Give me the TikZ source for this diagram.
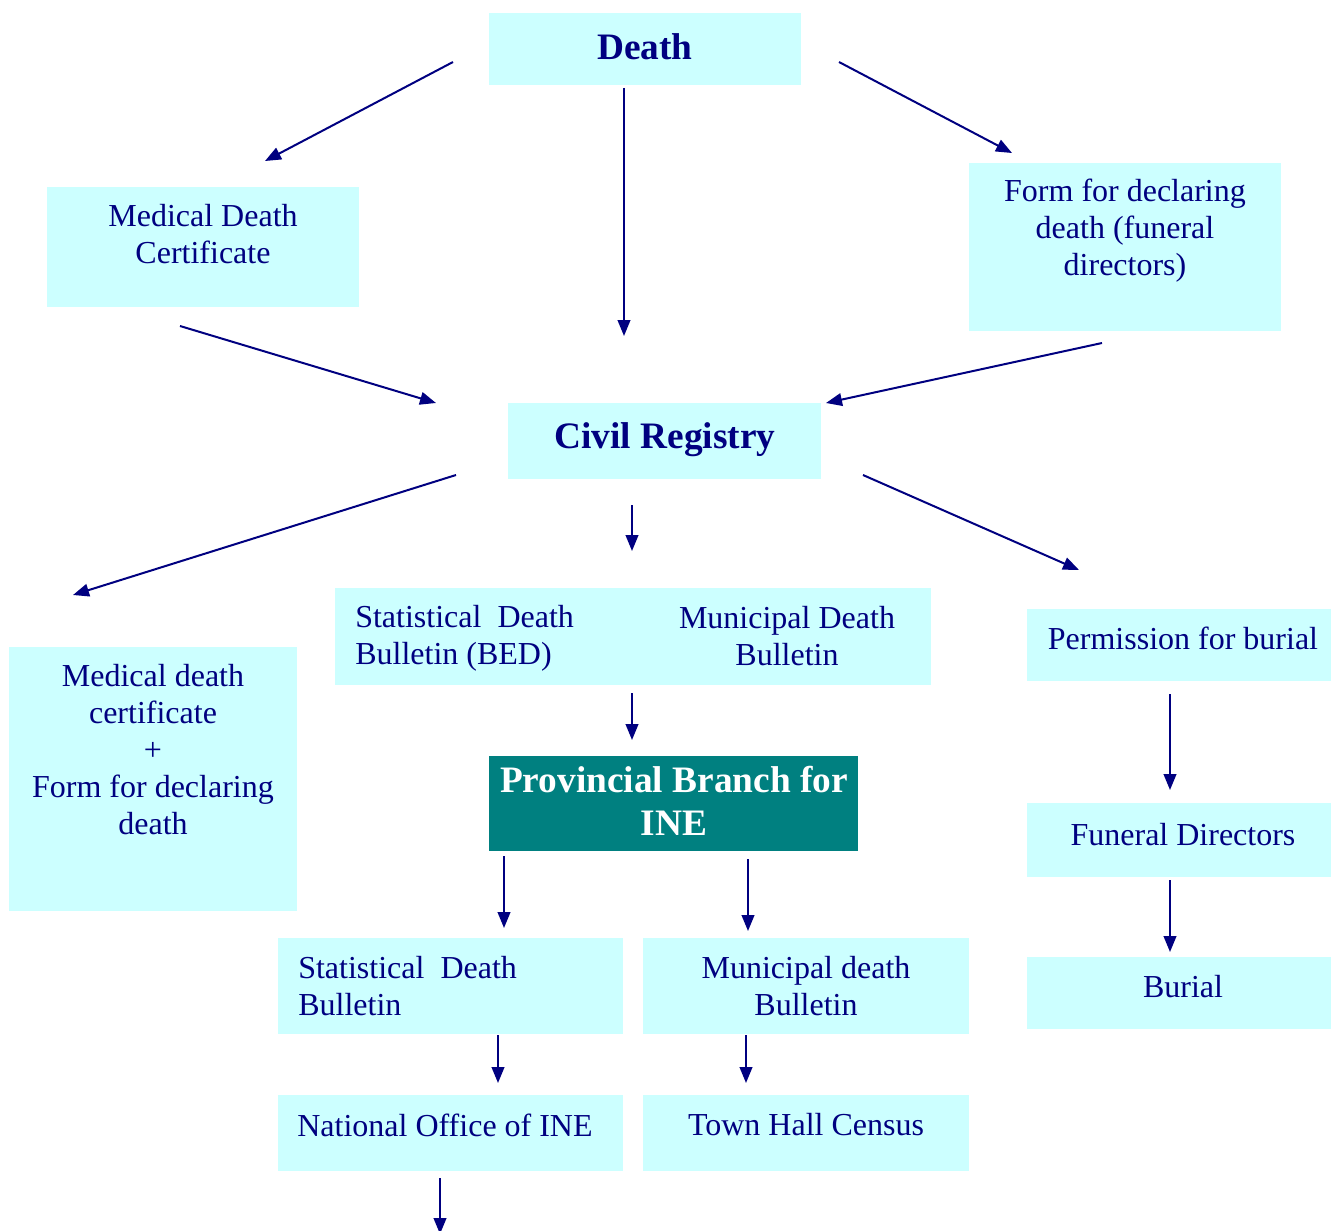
\documentclass[tikz,border=0pt]{standalone}
\usepackage{fontspec}
\setmainfont{Liberation Serif}
\usetikzlibrary{arrows.meta,fit}
\definecolor{navy}{RGB}{0,0,128}
\definecolor{boxfill}{RGB}{204,255,255}
\definecolor{tealbox}{RGB}{0,128,128}
\begin{document}
\begin{tikzpicture}[x=0.75pt,y=-0.75pt,
  box/.style={fill=boxfill,draw=none,inner sep=0pt},
  tealb/.style={fill=tealbox,draw=none,inner sep=0pt},
  txt/.style={text=navy,inner sep=0pt,align=center,font=\fontsize{24}{27.75}\selectfont},
  txtl/.style={txt,align=left,anchor=west},
  title/.style={text=navy,inner sep=0pt,align=center,font=\fontsize{28}{32.5}\selectfont\bfseries},
  arr/.style={draw=navy,line width=1.5pt,-{Triangle[length=12pt,width=9.5pt]}}]
\useasboundingbox (0,0) rectangle (1332,1231);
\fill[white] (0,0) rectangle (1332,1231);
% boxes
\node[box,fit={(489,13)(801,85)}] (death) {};
\node[box,fit={(47,187)(359,307)}] (mdc) {};
\node[box,fit={(969,163)(1281,331)}] (form) {};
\node[box,fit={(508,403)(821,479)}] (civil) {};
\node[box,fit={(335,588)(931,685)}] (bulls) {};
\node[box,fit={(1027,609)(1331,681)}] (perm) {};
\node[box,fit={(9,647)(297,911)}] (mdcf) {};
\node[tealb,fit={(489,756)(858,851)}] (prov) {};
\node[box,fit={(1027,803)(1331,877)}] (fun) {};
\node[box,fit={(1027,957)(1331,1029)}] (burial) {};
\node[box,fit={(278,938)(623,1034)}] (sdb) {};
\node[box,fit={(643,938)(969,1034)}] (mdb) {};
\node[box,fit={(278,1095)(623,1171)}] (nat) {};
\node[box,fit={(643,1095)(969,1171)}] (town) {};
% texts
\node[title] (death-t) at (645,47) {Death};
\node[txt] (mdc-t) at (203,234) {Medical Death\\Certificate};
\node[txt] (form-t) at (1125,231) {Form for declaring\\death (funeral\\directors)};
\node[title] (civil-t) at (665,440) {Civil Registry};
\node[txtl] (bulls-l) at (355,638) {Statistical~ Death\\Bulletin (BED)};
\node[txt] (bulls-r) at (787,636) {Municipal Death\\Bulletin};
\node[txt] (perm-t) at (1183,638) {Permission for burial};
\node[txt] (mdcf-t) at (153,750) {Medical death\\certificate\\+\\Form for declaring\\death};
\node[title,text=white] (prov-t) at (674,801) {Provincial Branch for\\INE};
\node[txt] (fun-t) at (1183,835) {Funeral Directors};
\node[txt] (burial-t) at (1183,987) {Burial};
\node[txtl] (sdb-t) at (298,986) {Statistical~ Death\\Bulletin};
\node[txt] (mdb-t) at (806,986) {Municipal death\\Bulletin};
\node[txt] (nat-t) at (445,1125) {National Office of INE};
\node[txt] (town-t) at (806,1125) {Town Hall Census};
% arrow end points
\coordinate (a1s) at (453,62);   \coordinate (a1e) at (265,161);
\coordinate (a2s) at (624,88);   \coordinate (a2e) at (624,336);
\coordinate (a3s) at (839,62);   \coordinate (a3e) at (1012,153);
\coordinate (a4s) at (180,326);  \coordinate (a4e) at (436,403);
\coordinate (a5s) at (1102,343); \coordinate (a5e) at (826,403);
\coordinate (a6s) at (456,475);  \coordinate (a6e) at (73,595);
\coordinate (a7s) at (632,505);  \coordinate (a7e) at (632,551);
\coordinate (a8s) at (863,475);  \coordinate (a8e) at (1079,570);
\coordinate (a9s) at (632,693);  \coordinate (a9e) at (632,740);
\coordinate (a10s) at (1170,694); \coordinate (a10e) at (1170,790);
\coordinate (a11s) at (504,856);  \coordinate (a11e) at (504,928);
\coordinate (a12s) at (748,859);  \coordinate (a12e) at (748,931);
\coordinate (a13s) at (1170,880); \coordinate (a13e) at (1170,952);
\coordinate (a14s) at (498,1035); \coordinate (a14e) at (498,1083);
\coordinate (a15s) at (746,1035); \coordinate (a15e) at (746,1083);
\coordinate (a16s) at (440,1178); \coordinate (a16e) at (440,1234);
\foreach \i in {1,...,16} {\draw[arr] (a\i s) -- (a\i e);}
\end{tikzpicture}
\end{document}
